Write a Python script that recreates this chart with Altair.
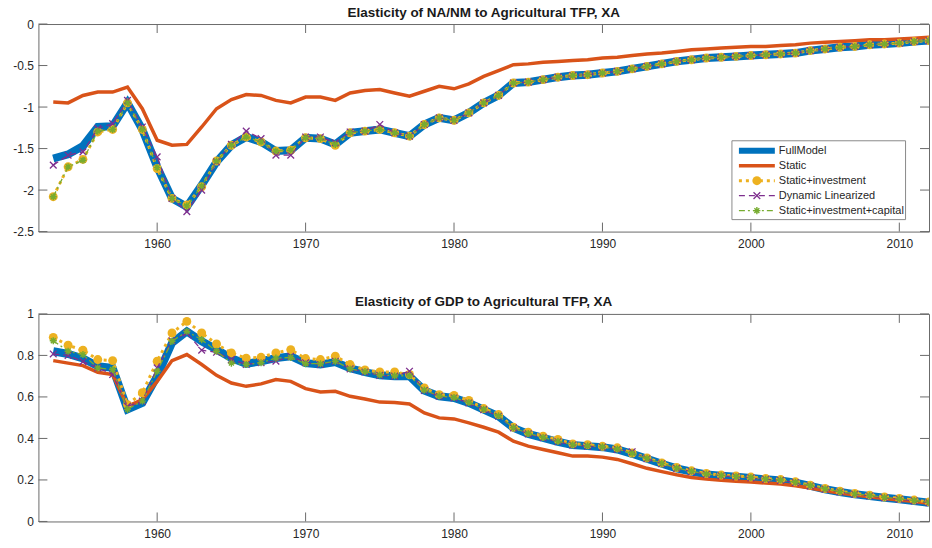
import altair as alt
import pandas as pd

years = list(range(1953, 2013))

# ---------------- top panel: Elasticity of NA/NM ----------------
full_top = [-1.62, -1.57, -1.47, -1.24, -1.23, -0.95, -1.27, -1.72, -2.10, -2.20,
            -1.94, -1.66, -1.46, -1.36, -1.42, -1.53, -1.52, -1.37, -1.38, -1.45,
            -1.31, -1.29, -1.27, -1.31, -1.35, -1.21, -1.13, -1.16, -1.07, -0.95,
            -0.86, -0.71, -0.70, -0.67, -0.64, -0.62, -0.61, -0.59, -0.57, -0.54,
            -0.51, -0.48, -0.45, -0.43, -0.41, -0.40, -0.39, -0.38, -0.37, -0.36,
            -0.35, -0.32, -0.30, -0.28, -0.27, -0.25, -0.24, -0.23, -0.21, -0.20]
static_top = [-0.94, -0.95, -0.86, -0.82, -0.82, -0.76, -1.02, -1.40, -1.46, -1.45,
              -1.24, -1.02, -0.91, -0.85, -0.86, -0.92, -0.95, -0.88, -0.88, -0.92,
              -0.83, -0.80, -0.79, -0.83, -0.87, -0.81, -0.75, -0.78, -0.72, -0.63,
              -0.56, -0.49, -0.48, -0.46, -0.45, -0.44, -0.43, -0.41, -0.40, -0.38,
              -0.36, -0.35, -0.33, -0.31, -0.30, -0.29, -0.28, -0.27, -0.27, -0.26,
              -0.25, -0.23, -0.22, -0.21, -0.20, -0.19, -0.19, -0.18, -0.17, -0.16]
statinv_top = [-2.08, -1.72, -1.63, -1.30, -1.27, -0.95, -1.27, -1.74, -2.10, -2.18,
               -1.96, -1.65, -1.46, -1.36, -1.42, -1.53, -1.52, -1.37, -1.38, -1.46,
               -1.31, -1.29, -1.27, -1.31, -1.35, -1.21, -1.13, -1.16, -1.07, -0.95,
               -0.86, -0.71, -0.70, -0.67, -0.64, -0.62, -0.61, -0.59, -0.57, -0.54,
               -0.51, -0.48, -0.45, -0.43, -0.41, -0.40, -0.39, -0.38, -0.37, -0.36,
               -0.35, -0.32, -0.30, -0.28, -0.27, -0.25, -0.24, -0.23, -0.21, -0.20]
dynlin_top = [-1.70, -1.58, -1.54, -1.26, -1.20, -0.92, -1.24, -1.60, -2.10, -2.26,
              -2.00, -1.66, -1.45, -1.29, -1.38, -1.58, -1.58, -1.36, -1.36, -1.43,
              -1.30, -1.29, -1.21, -1.31, -1.35, -1.21, -1.13, -1.16, -1.07, -0.95,
              -0.86, -0.71, -0.70, -0.67, -0.64, -0.62, -0.61, -0.59, -0.57, -0.54,
              -0.51, -0.48, -0.45, -0.43, -0.41, -0.40, -0.39, -0.38, -0.37, -0.36,
              -0.35, -0.32, -0.30, -0.28, -0.27, -0.25, -0.24, -0.23, -0.21, -0.20]
statcap_top = [-2.08, -1.72, -1.64, -1.29, -1.27, -0.95, -1.27, -1.73, -2.10, -2.19,
               -1.95, -1.65, -1.46, -1.36, -1.42, -1.53, -1.52, -1.37, -1.38, -1.45,
               -1.31, -1.29, -1.27, -1.31, -1.35, -1.21, -1.13, -1.16, -1.07, -0.95,
               -0.86, -0.71, -0.70, -0.67, -0.64, -0.62, -0.61, -0.59, -0.57, -0.54,
               -0.51, -0.48, -0.45, -0.43, -0.41, -0.40, -0.39, -0.38, -0.37, -0.36,
               -0.35, -0.32, -0.30, -0.28, -0.27, -0.25, -0.24, -0.23, -0.21, -0.20]

# ---------------- bottom panel: Elasticity of GDP ----------------
full_bot = [0.820, 0.807, 0.785, 0.748, 0.740, 0.540, 0.571, 0.700, 0.860, 0.916,
            0.868, 0.828, 0.787, 0.759, 0.772, 0.787, 0.796, 0.763, 0.756, 0.768,
            0.738, 0.720, 0.704, 0.700, 0.700, 0.631, 0.603, 0.595, 0.571, 0.539,
            0.507, 0.451, 0.422, 0.403, 0.384, 0.368, 0.363, 0.358, 0.347, 0.326,
            0.302, 0.278, 0.256, 0.240, 0.227, 0.220, 0.215, 0.210, 0.203, 0.198,
            0.187, 0.171, 0.155, 0.142, 0.131, 0.123, 0.114, 0.107, 0.099, 0.090]
static_bot = [0.775, 0.763, 0.751, 0.719, 0.708, 0.555, 0.587, 0.675, 0.775, 0.804,
              0.756, 0.704, 0.667, 0.651, 0.663, 0.684, 0.675, 0.640, 0.624, 0.627,
              0.603, 0.590, 0.575, 0.573, 0.566, 0.523, 0.499, 0.494, 0.475, 0.454,
              0.430, 0.387, 0.363, 0.347, 0.331, 0.315, 0.315, 0.310, 0.299, 0.278,
              0.256, 0.240, 0.225, 0.212, 0.204, 0.198, 0.194, 0.190, 0.185, 0.180,
              0.172, 0.161, 0.148, 0.137, 0.127, 0.119, 0.111, 0.103, 0.096, 0.088]
statinv_bot = [0.887, 0.849, 0.825, 0.780, 0.775, 0.563, 0.620, 0.772, 0.908, 0.964,
               0.908, 0.855, 0.812, 0.787, 0.791, 0.812, 0.828, 0.785, 0.780, 0.796,
               0.756, 0.730, 0.720, 0.720, 0.708, 0.643, 0.611, 0.607, 0.583, 0.544,
               0.515, 0.454, 0.430, 0.411, 0.395, 0.374, 0.370, 0.362, 0.355, 0.330,
               0.306, 0.282, 0.260, 0.244, 0.231, 0.224, 0.219, 0.214, 0.207, 0.202,
               0.191, 0.175, 0.159, 0.146, 0.135, 0.127, 0.118, 0.111, 0.103, 0.094]
dynlin_bot = [0.807, 0.800, 0.770, 0.740, 0.708, 0.555, 0.580, 0.740, 0.870, 0.908,
              0.825, 0.815, 0.780, 0.757, 0.765, 0.772, 0.796, 0.765, 0.756, 0.772,
              0.735, 0.720, 0.704, 0.700, 0.724, 0.631, 0.603, 0.595, 0.571, 0.539,
              0.507, 0.451, 0.422, 0.403, 0.384, 0.368, 0.363, 0.358, 0.347, 0.336,
              0.302, 0.278, 0.256, 0.240, 0.227, 0.220, 0.215, 0.210, 0.203, 0.198,
              0.187, 0.171, 0.155, 0.142, 0.131, 0.123, 0.114, 0.107, 0.099, 0.090]
statcap_bot = [0.871, 0.820, 0.804, 0.740, 0.732, 0.540, 0.580, 0.724, 0.868, 0.916,
               0.876, 0.820, 0.763, 0.756, 0.765, 0.787, 0.790, 0.760, 0.760, 0.772,
               0.735, 0.722, 0.706, 0.702, 0.702, 0.633, 0.605, 0.597, 0.573, 0.541,
               0.509, 0.452, 0.424, 0.405, 0.386, 0.370, 0.365, 0.360, 0.349, 0.328,
               0.304, 0.280, 0.258, 0.242, 0.229, 0.222, 0.217, 0.212, 0.205, 0.200,
               0.189, 0.173, 0.157, 0.144, 0.133, 0.125, 0.116, 0.109, 0.101, 0.092]

series_names = ["FullModel", "Static", "Static+investment", "Dynamic Linearized",
                "Static+investment+capital"]
x_ticks = [1960, 1970, 1980, 1990, 2000, 2010]
y_ticks_top = [0, -0.5, -1, -1.5, -2, -2.5]
y_ticks_bot = [0, 0.2, 0.4, 0.6, 0.8, 1]

FONT = "Liberation Sans"
BOX = "#6a6a6a"
W, H = 892.5, 208
TICK = 9
BLUE, ORANGE, YELLOW, PURPLE, GREEN = "#0072BD", "#D95319", "#EDB120", "#7E2F8E", "#77AC30"
XPATH = "M-1,-1L1,1M-1,1L1,-1"
ASTER = "M-1,0L1,0M0,-1L0,1M-0.7,-0.7L0.7,0.7M-0.7,0.7L0.7,-0.7"


def frame(vals):
    return pd.DataFrame({"year": years, "value": vals})


def panel(title, vals, ydomain, yticks, legend=False):
    xs = alt.Scale(domain=[1952, 2012], nice=False, zero=False)
    ys = alt.Scale(domain=ydomain, nice=False, zero=False)
    xenc = alt.X("year:Q", scale=xs,
                 axis=alt.Axis(values=x_ticks, labelExpr="toString(datum.value)",
                               title=None, labelPadding=7))
    yenc = alt.Y("value:Q", scale=ys,
                 axis=alt.Axis(values=yticks, labelExpr="toString(datum.value)",
                               title=None, labelPadding=5))
    full, static, statinv, dynlin, statcap = vals
    layers = [
        alt.Chart(frame(full)).mark_line(color=BLUE, strokeWidth=8, clip=True).encode(x=xenc, y=yenc),
        alt.Chart(frame(static)).mark_line(color=ORANGE, strokeWidth=3.5, clip=True).encode(x=xenc, y=yenc),
        alt.Chart(frame(statinv)).mark_line(color=YELLOW, strokeWidth=3, clip=True,
                                            strokeDash=[3, 4]).encode(x=xenc, y=yenc),
        alt.Chart(frame(statinv)).mark_point(shape="circle", filled=True, color=YELLOW, clip=True,
                                             size=80, opacity=1).encode(x=xenc, y=yenc),
        alt.Chart(frame(dynlin)).mark_line(color=PURPLE, strokeWidth=1.3, clip=True,
                                           strokeDash=[6, 4]).encode(x=xenc, y=yenc),
        alt.Chart(frame(dynlin)).mark_point(shape=XPATH, filled=False, color=PURPLE, clip=True,
                                            size=45, strokeWidth=1.3, opacity=1).encode(x=xenc, y=yenc),
        alt.Chart(frame(statcap)).mark_line(color=GREEN, strokeWidth=1.3, clip=True,
                                            strokeDash=[6, 3, 2, 3]).encode(x=xenc, y=yenc),
        alt.Chart(frame(statcap)).mark_point(shape=ASTER, filled=False, color=GREEN, clip=True,
                                             size=50, strokeWidth=1.4, opacity=1).encode(x=xenc, y=yenc),
    ]
    xt = pd.DataFrame({"year": x_ticks})
    yt = pd.DataFrame({"value": yticks})
    layers += [
        alt.Chart(xt).mark_rule(color=BOX, strokeWidth=1).encode(
            x=xenc, y=alt.value(0), y2=alt.value(TICK)),
        alt.Chart(xt).mark_rule(color=BOX, strokeWidth=1).encode(
            x=xenc, y=alt.value(H - TICK), y2=alt.value(H)),
        alt.Chart(yt).mark_rule(color=BOX, strokeWidth=1).encode(
            y=yenc, x=alt.value(0), x2=alt.value(TICK)),
        alt.Chart(yt).mark_rule(color=BOX, strokeWidth=1).encode(
            y=yenc, x=alt.value(W - TICK), x2=alt.value(W)),
    ]
    if legend:
        one = pd.DataFrame({"k": [0]})
        layers.append(alt.Chart(one).mark_rect(fill="white", stroke="#8a8a8a", strokeWidth=1).encode(
            x=alt.value(695), x2=alt.value(869), y=alt.value(117), y2=alt.value(196)))
        rows = [127, 142, 157, 172, 187]
        styles = [
            dict(color=BLUE, strokeWidth=6),
            dict(color=ORANGE, strokeWidth=3.5),
            dict(color=YELLOW, strokeWidth=3, strokeDash=[3, 4]),
            dict(color=PURPLE, strokeWidth=1.3, strokeDash=[6, 4]),
            dict(color=GREEN, strokeWidth=1.3, strokeDash=[6, 3, 2, 3]),
        ]
        markers = [None, None,
                   dict(shape="circle", filled=True, color=YELLOW, size=80),
                   dict(shape=XPATH, filled=False, color=PURPLE, size=45, strokeWidth=1.3),
                   dict(shape=ASTER, filled=False, color=GREEN, size=50, strokeWidth=1.4)]
        for name, ry, st, mk in zip(series_names, rows, styles, markers):
            layers.append(alt.Chart(one).mark_rule(**st).encode(
                x=alt.value(702), x2=alt.value(738), y=alt.value(ry)))
            if mk:
                layers.append(alt.Chart(one).mark_point(opacity=1, **mk).encode(
                    x=alt.value(720), y=alt.value(ry)))
            layers.append(alt.Chart(one).mark_text(
                align="left", baseline="middle", font=FONT, fontSize=11,
                color="#262626").encode(x=alt.value(742), y=alt.value(ry), text=alt.value(name)))
    return alt.layer(*layers).properties(
        width=W, height=H,
        title=alt.TitleParams(title, font=FONT, fontSize=13.5, fontWeight="bold",
                              color="#1a1a1a", anchor="middle", frame="group", offset=-1))


top = panel("Elasticity of NA/NM to Agricultural TFP, XA",
            [full_top, static_top, statinv_top, dynlin_top, statcap_top],
            [-2.5, 0], y_ticks_top, legend=True)
bottom = panel("Elasticity of GDP to Agricultural TFP, XA",
               [full_bot, static_bot, statinv_bot, dynlin_bot, statcap_bot],
               [0, 1], y_ticks_bot)

chart = alt.vconcat(top, bottom, spacing=44.5).properties(
    padding={"left": 11.5, "top": 4.5, "right": 2, "bottom": 2},
    background="white",
).configure_view(stroke=BOX, strokeWidth=1).configure_axis(
    domain=False, ticks=False, grid=False, labelFont=FONT, labelFontSize=12,
    labelColor="#262626")

chart.save("out.html", embed_options={"renderer": "svg", "actions": False})
